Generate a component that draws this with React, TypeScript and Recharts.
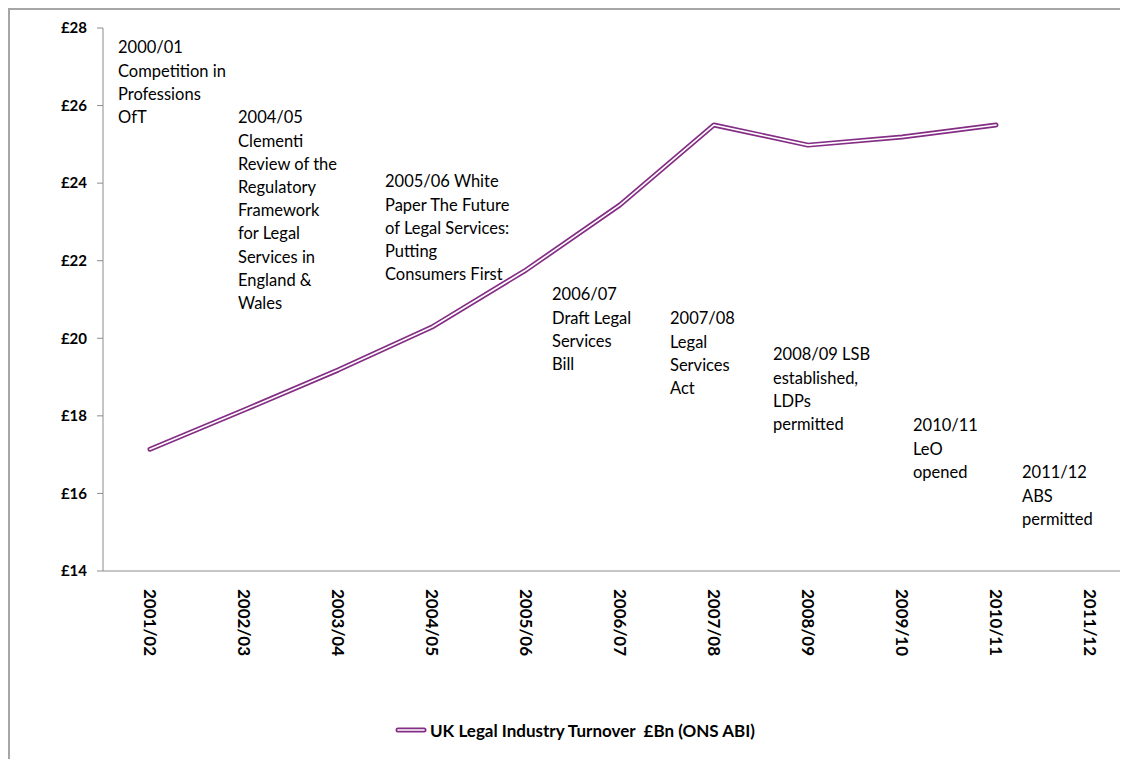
import React from 'react';
import { LineChart, Line, XAxis, YAxis } from 'recharts';

const categories = ['2001/02', '2002/03', '2003/04', '2004/05', '2005/06', '2006/07', '2007/08', '2008/09', '2009/10', '2010/11', '2011/12'];
const turnover: (number | null)[] = [17.14, 18.15, 19.18, 20.29, 21.76, 23.44, 25.5, 24.98, 25.19, 25.5, null];
const yTicks = [14, 16, 18, 20, 22, 24, 26, 28];
const seriesName = 'UK Legal Industry Turnover  £Bn (ONS ABI)';

const annotations: { lines: string[]; x: number; y: number }[] = [
  { lines: ['2000/01', 'Competition in', 'Professions', 'OfT'], x: 118, y: 48 },
  { lines: ['2004/05', 'Clementi', 'Review of the', 'Regulatory', 'Framework', 'for Legal', 'Services in', 'England &', 'Wales'], x: 238, y: 118 },
  { lines: ['2005/06 White', 'Paper The Future', 'of Legal Services:', 'Putting', 'Consumers First'], x: 385, y: 182 },
  { lines: ['2006/07', 'Draft Legal', 'Services', 'Bill'], x: 552, y: 295 },
  { lines: ['2007/08', 'Legal', 'Services', 'Act'], x: 670, y: 319 },
  { lines: ['2008/09 LSB', 'established,', 'LDPs', 'permitted'], x: 773, y: 355 },
  { lines: ['2010/11', 'LeO', 'opened'], x: 913, y: 426 },
  { lines: ['2011/12', 'ABS', 'permitted'], x: 1022, y: 473 },
];

const data = categories.map((c, i) => ({ x: i + 0.5, name: c, value: turnover[i] }));
const labelTicks = categories.map((_, i) => i + 0.5);
const boundaryTicks = categories.map((_, i) => i).concat([categories.length]);

const FONT = 'Lato, "Open Sans", sans-serif';
const PURPLE = '#842d85';
const AXIS = '#8c8c8c';
const LH = 23.2;

const XTick = (props: any) => {
  const { x, y, payload } = props;
  const label = categories[Math.floor(payload.value)];
  return (
    <g transform={`translate(${x},${y})`}>
      <text transform="rotate(90)" x={10} y={0} dy="0.36em" textAnchor="start" fontFamily={FONT} fontSize={17} fontWeight={700} fill="#000">
        {label}
      </text>
    </g>
  );
};

export default function App() {
  return (
    <div style={{ position: 'relative', width: 1120, height: 751, overflow: 'hidden', background: '#fff' }}>
      <div style={{ position: 'absolute', left: 0, top: 0, width: 1140, height: 800, borderLeft: '2px solid #a6a6a6', borderTop: '2px solid #a6a6a6', boxSizing: 'border-box', pointerEvents: 'none' }} />
      <LineChart width={1140} height={759} data={data} margin={{ top: 20, right: 11, bottom: 106, left: 35 }}>
        <XAxis
          dataKey="x"
          type="number"
          domain={[0, categories.length]}
          ticks={labelTicks}
          interval={0}
          tick={<XTick />}
          tickLine={false}
          axisLine={{ stroke: AXIS }}
          height={90}
        />
        <XAxis
          xAxisId="b"
          dataKey="x"
          type="number"
          domain={[0, categories.length]}
          ticks={boundaryTicks}
          interval={0}
          tick={false}
          tickLine={{ stroke: AXIS }}
          tickSize={6}
          axisLine={false}
          height={0}
        />
        <YAxis
          type="number"
          domain={[14, 28]}
          ticks={yTicks}
          interval={0}
          width={60}
          tickSize={6}
          tickMargin={10}
          tickLine={{ stroke: AXIS }}
          axisLine={{ stroke: AXIS }}
          tickFormatter={(v: number) => `£${v}`}
          tick={{ fontFamily: FONT, fontSize: 15, fontWeight: 700, fill: '#000' }}
        />
        <Line type="linear" dataKey="value" name={seriesName} stroke={PURPLE} strokeWidth={5} dot={false} activeDot={false} isAnimationActive={false} strokeLinecap="round" strokeLinejoin="round" connectNulls={false} />
        <Line type="linear" dataKey="value" name="inner" legendType="none" stroke="#ffffff" strokeWidth={1.6} dot={false} activeDot={false} isAnimationActive={false} strokeLinecap="round" strokeLinejoin="round" />
      </LineChart>
      {annotations.map((a, i) => (
        <div key={i} style={{ position: 'absolute', left: a.x - 8, top: a.y - 8 - LH / 2, fontFamily: FONT, fontSize: 16.5, lineHeight: `${LH}px`, color: '#000', whiteSpace: 'nowrap' }}>
          {a.lines.map((l, j) => (
            <div key={j}>{l}</div>
          ))}
        </div>
      ))}
      <div style={{ position: 'absolute', left: 395 - 8, top: 730 - 8 - 11, height: 22, display: 'flex', alignItems: 'center', fontFamily: FONT, fontSize: 17, fontWeight: 700, color: '#000', whiteSpace: 'pre' }}>
        <svg width={32} height={10} style={{ marginRight: 3 }}>
          <line x1={3} y1={5} x2={29} y2={5} stroke={PURPLE} strokeWidth={5} strokeLinecap="round" />
          <line x1={3} y1={5} x2={29} y2={5} stroke="#fff" strokeWidth={1.6} strokeLinecap="round" />
        </svg>
        <span>{seriesName}</span>
      </div>
    </div>
  );
}
